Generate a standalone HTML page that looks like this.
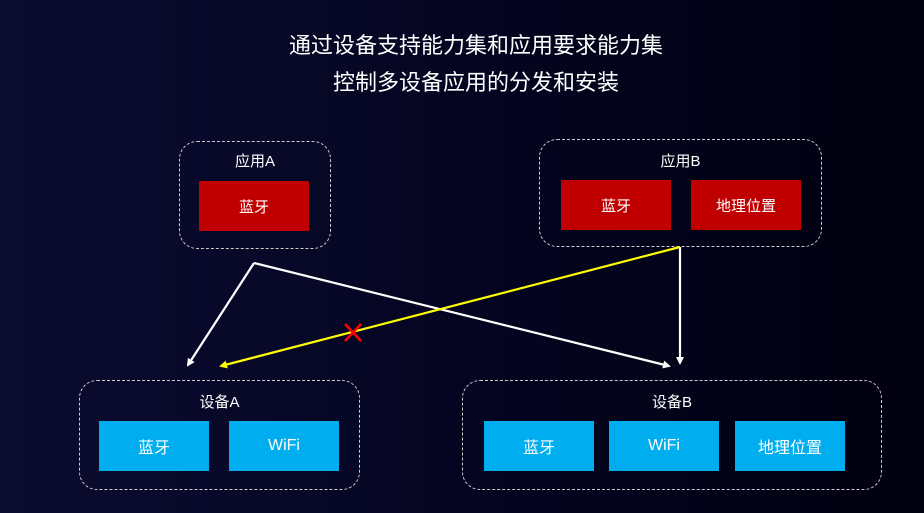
<!DOCTYPE html>
<html><head><meta charset="utf-8"><style>
body{margin:0;width:924px;height:513px;overflow:hidden;background:linear-gradient(90deg,#0b0b30 0%,#050522 50%,#00000f 100%);font-family:"Liberation Sans","Noto Sans CJK SC",sans-serif;color:#fff;position:relative}
.t{position:absolute;left:14px;width:924px;text-align:center;font-size:22px}
.g{position:absolute;border:1.5px dashed #ccc;border-radius:18px;box-sizing:border-box}
.lab{position:absolute;font-size:15px;text-align:center}
.r{position:absolute;background:#c00000;font-size:15px;display:flex;align-items:center;justify-content:center}
.b{position:absolute;background:#00aeef;font-size:16px;display:flex;align-items:center;justify-content:center}
</style></head><body>
<div class="t" style="top:28px">通过设备支持能力集和应用要求能力集</div>
<div class="t" style="top:65px">控制多设备应用的分发和安装</div>

<div class="g" style="left:179px;top:141px;width:152px;height:108px"></div>
<div class="lab" style="left:179px;top:150px;width:152px">应用A</div>
<div class="r" style="left:199px;top:181px;width:110px;height:50px">蓝牙</div>

<div class="g" style="left:539px;top:139px;width:283px;height:108px"></div>
<div class="lab" style="left:539px;top:150px;width:283px">应用B</div>
<div class="r" style="left:561px;top:180px;width:110px;height:50px">蓝牙</div>
<div class="r" style="left:691px;top:180px;width:110px;height:50px">地理位置</div>

<div class="g" style="left:79px;top:380px;width:281px;height:110px"></div>
<div class="lab" style="left:79px;top:391px;width:281px">设备A</div>
<div class="b" style="left:99px;top:421px;width:110px;height:50px">蓝牙</div>
<div class="b" style="left:229px;top:421px;width:110px;height:50px">WiFi</div>

<div class="g" style="left:462px;top:380px;width:420px;height:110px"></div>
<div class="lab" style="left:462px;top:391px;width:420px">设备B</div>
<div class="b" style="left:484px;top:421px;width:110px;height:50px">蓝牙</div>
<div class="b" style="left:609px;top:421px;width:110px;height:50px">WiFi</div>
<div class="b" style="left:735px;top:421px;width:110px;height:50px">地理位置</div>

<svg width="924" height="513" style="position:absolute;left:0;top:0">
<defs>
<marker id="w" markerWidth="8" markerHeight="8" refX="6" refY="4" orient="auto" markerUnits="userSpaceOnUse"><path d="M0,0 L8,4 L0,8 z" fill="#fff"/></marker>
<marker id="y" markerWidth="8" markerHeight="8" refX="6" refY="4" orient="auto" markerUnits="userSpaceOnUse"><path d="M0,0 L8,4 L0,8 z" fill="#ff0"/></marker>
</defs>
<g stroke="#fff" stroke-width="2.2" fill="none">
<path d="M254,263 L188,365" marker-end="url(#w)"/>
<path d="M254,263 L669,366" marker-end="url(#w)"/>
<path d="M680,247 L680,363" marker-end="url(#w)"/>
</g>
<path d="M680,247 L221,366" stroke="#ff0" stroke-width="2.2" marker-end="url(#y)"/>
<g stroke="#f00" stroke-width="2.5"><path d="M345,324 L361,341 M361,324 L345,341"/></g>
</svg>
</body></html>
